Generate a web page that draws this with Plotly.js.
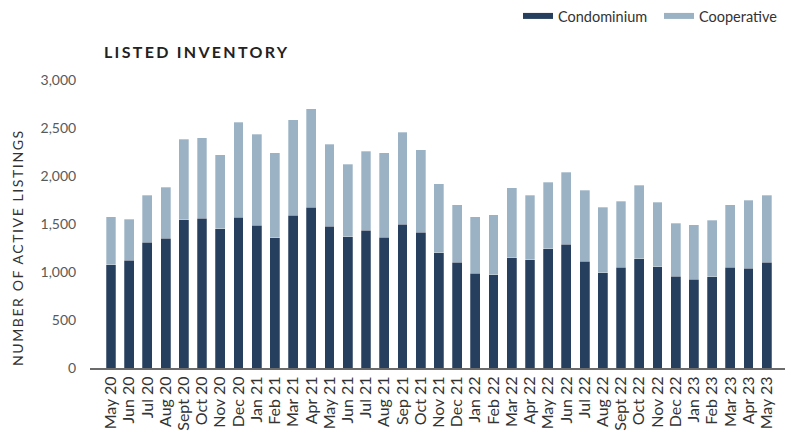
<!DOCTYPE html>
<html>
<head>
<meta charset="utf-8">
<script src="https://cdn.plot.ly/plotly-3.0.1.min.js"></script>
<style>
  html, body { margin: 0; padding: 0; background: #fff; }
  #chart { width: 792px; height: 432px; }
  .gtitle { letter-spacing: 2.3px; }
  .annotation-text { letter-spacing: 1.6px; }
</style>
</head>
<body>
<div id="chart"></div>
<script>
const months = ["May 20","Jun 20","Jul 20","Aug 20","Sept 20","Oct 20","Nov 20","Dec 20",
  "Jan 21","Feb 21","Mar 21","Apr 21","May 21","Jun 21","Jul 21","Aug 21","Sep 21","Oct 21","Nov 21","Dec 21",
  "Jan 22","Feb 22","Mar 22","Apr 22","May 22","Jun 22","Jul 22","Aug 22","Sept 22","Oct 22","Nov 22","Dec 22",
  "Jan 23","Feb 23","Mar 23","Apr 23","May 23"];
const condominium = [1073,1125,1308,1350,1542,1558,1448,1569,1486,1357,1590,1673,1479,1365,1434,1361,1496,1413,1201,1100,
  986,972,1149,1128,1243,1288,1111,990,1052,1139,1055,955,923,948,1048,1038,1100];
const totalListings = [1576,1548,1802,1885,2381,2396,2222,2562,2434,2240,2586,2698,2333,2125,2260,2240,2458,2271,1920,1701,
  1573,1594,1878,1802,1937,2038,1850,1673,1736,1906,1729,1507,1490,1538,1698,1746,1798];
const cooperative = totalListings.map((t, i) => t - condominium[i]);
const yTicks = [0, 500, 1000, 1500, 2000, 2500, 3000];
const yTickText = ["0", "500", "1,000", "1,500", "2,000", "2,500", "3,000"];

const condoColor = "#263f5f";
const coopColor = "#9bb2c4";
const FONT = "Lato, 'Open Sans', sans-serif";

const traces = [
  { type: "bar", x: months, y: condominium, name: "Condominium", showlegend: false,
    marker: { color: condoColor, line: { color: "rgba(255,255,255,0.5)", width: 0.5 } }, width: 0.54 },
  { type: "bar", x: months, y: cooperative, name: "Cooperative", showlegend: false,
    marker: { color: coopColor, line: { color: "rgba(255,255,255,0.6)", width: 0.5 } }, width: 0.54 },
  { type: "scatter", mode: "lines", x: [null], y: [null], name: "Condominium",
    line: { color: condoColor, width: 6 }, hoverinfo: "skip" },
  { type: "scatter", mode: "lines", x: [null], y: [null], name: "Cooperative",
    line: { color: coopColor, width: 6 }, hoverinfo: "skip" }
];

const layout = {
  width: 792, height: 432,
  margin: { l: 90, r: 7, t: 80, b: 64, pad: 0 },
  paper_bgcolor: "#ffffff", plot_bgcolor: "#ffffff",
  barmode: "stack",
  font: { family: FONT, size: 14, color: "#333333" },
  title: {
    text: "LISTED INVENTORY",
    font: { family: FONT, size: 16, color: "#222222", weight: 700 },
    xref: "container", yref: "container", x: 104 / 792, xanchor: "left",
    y: 1 - 52 / 432, yanchor: "middle"
  },
  xaxis: {
    type: "category",
    categoryorder: "array", categoryarray: months,
    tickmode: "array", tickvals: months, ticktext: months,
    range: [-1.15, 37.0],
    tickangle: -90,
    tickfont: { family: FONT, size: 16, color: "#333333" },
    showgrid: false, zeroline: false,
    showline: true, linecolor: "#6b6b6b", linewidth: 2,
    ticks: "", fixedrange: true
  },
  yaxis: {
    range: [0, 3000],
    tickvals: yTicks, ticktext: yTickText,
    tickfont: { family: FONT, size: 14, color: "#595959" },
    showgrid: false, zeroline: false, showline: false,
    ticks: "outside", ticklen: 10, tickcolor: "rgba(0,0,0,0)",
    fixedrange: true
  },
  legend: {
    orientation: "h",
    xref: "container", yref: "container",
    x: 518 / 792, xanchor: "left",
    y: 1, yanchor: "top",
    entrywidth: 96, entrywidthmode: "pixels",
    font: { family: FONT, size: 14.5, color: "#333333" },
    bgcolor: "rgba(0,0,0,0)",
    traceorder: "normal"
  },
  annotations: [{
    text: "NUMBER OF ACTIVE LISTINGS",
    xref: "paper", yref: "paper",
    x: (18 - 90) / 695, y: (368 - 248) / 288,
    xanchor: "center", yanchor: "middle",
    textangle: -90, showarrow: false,
    font: { family: FONT, size: 14, color: "#333333" }
  }],
  showlegend: true
};

Plotly.newPlot("chart", traces, layout, { displayModeBar: false, staticPlot: true });
</script>
</body>
</html>
